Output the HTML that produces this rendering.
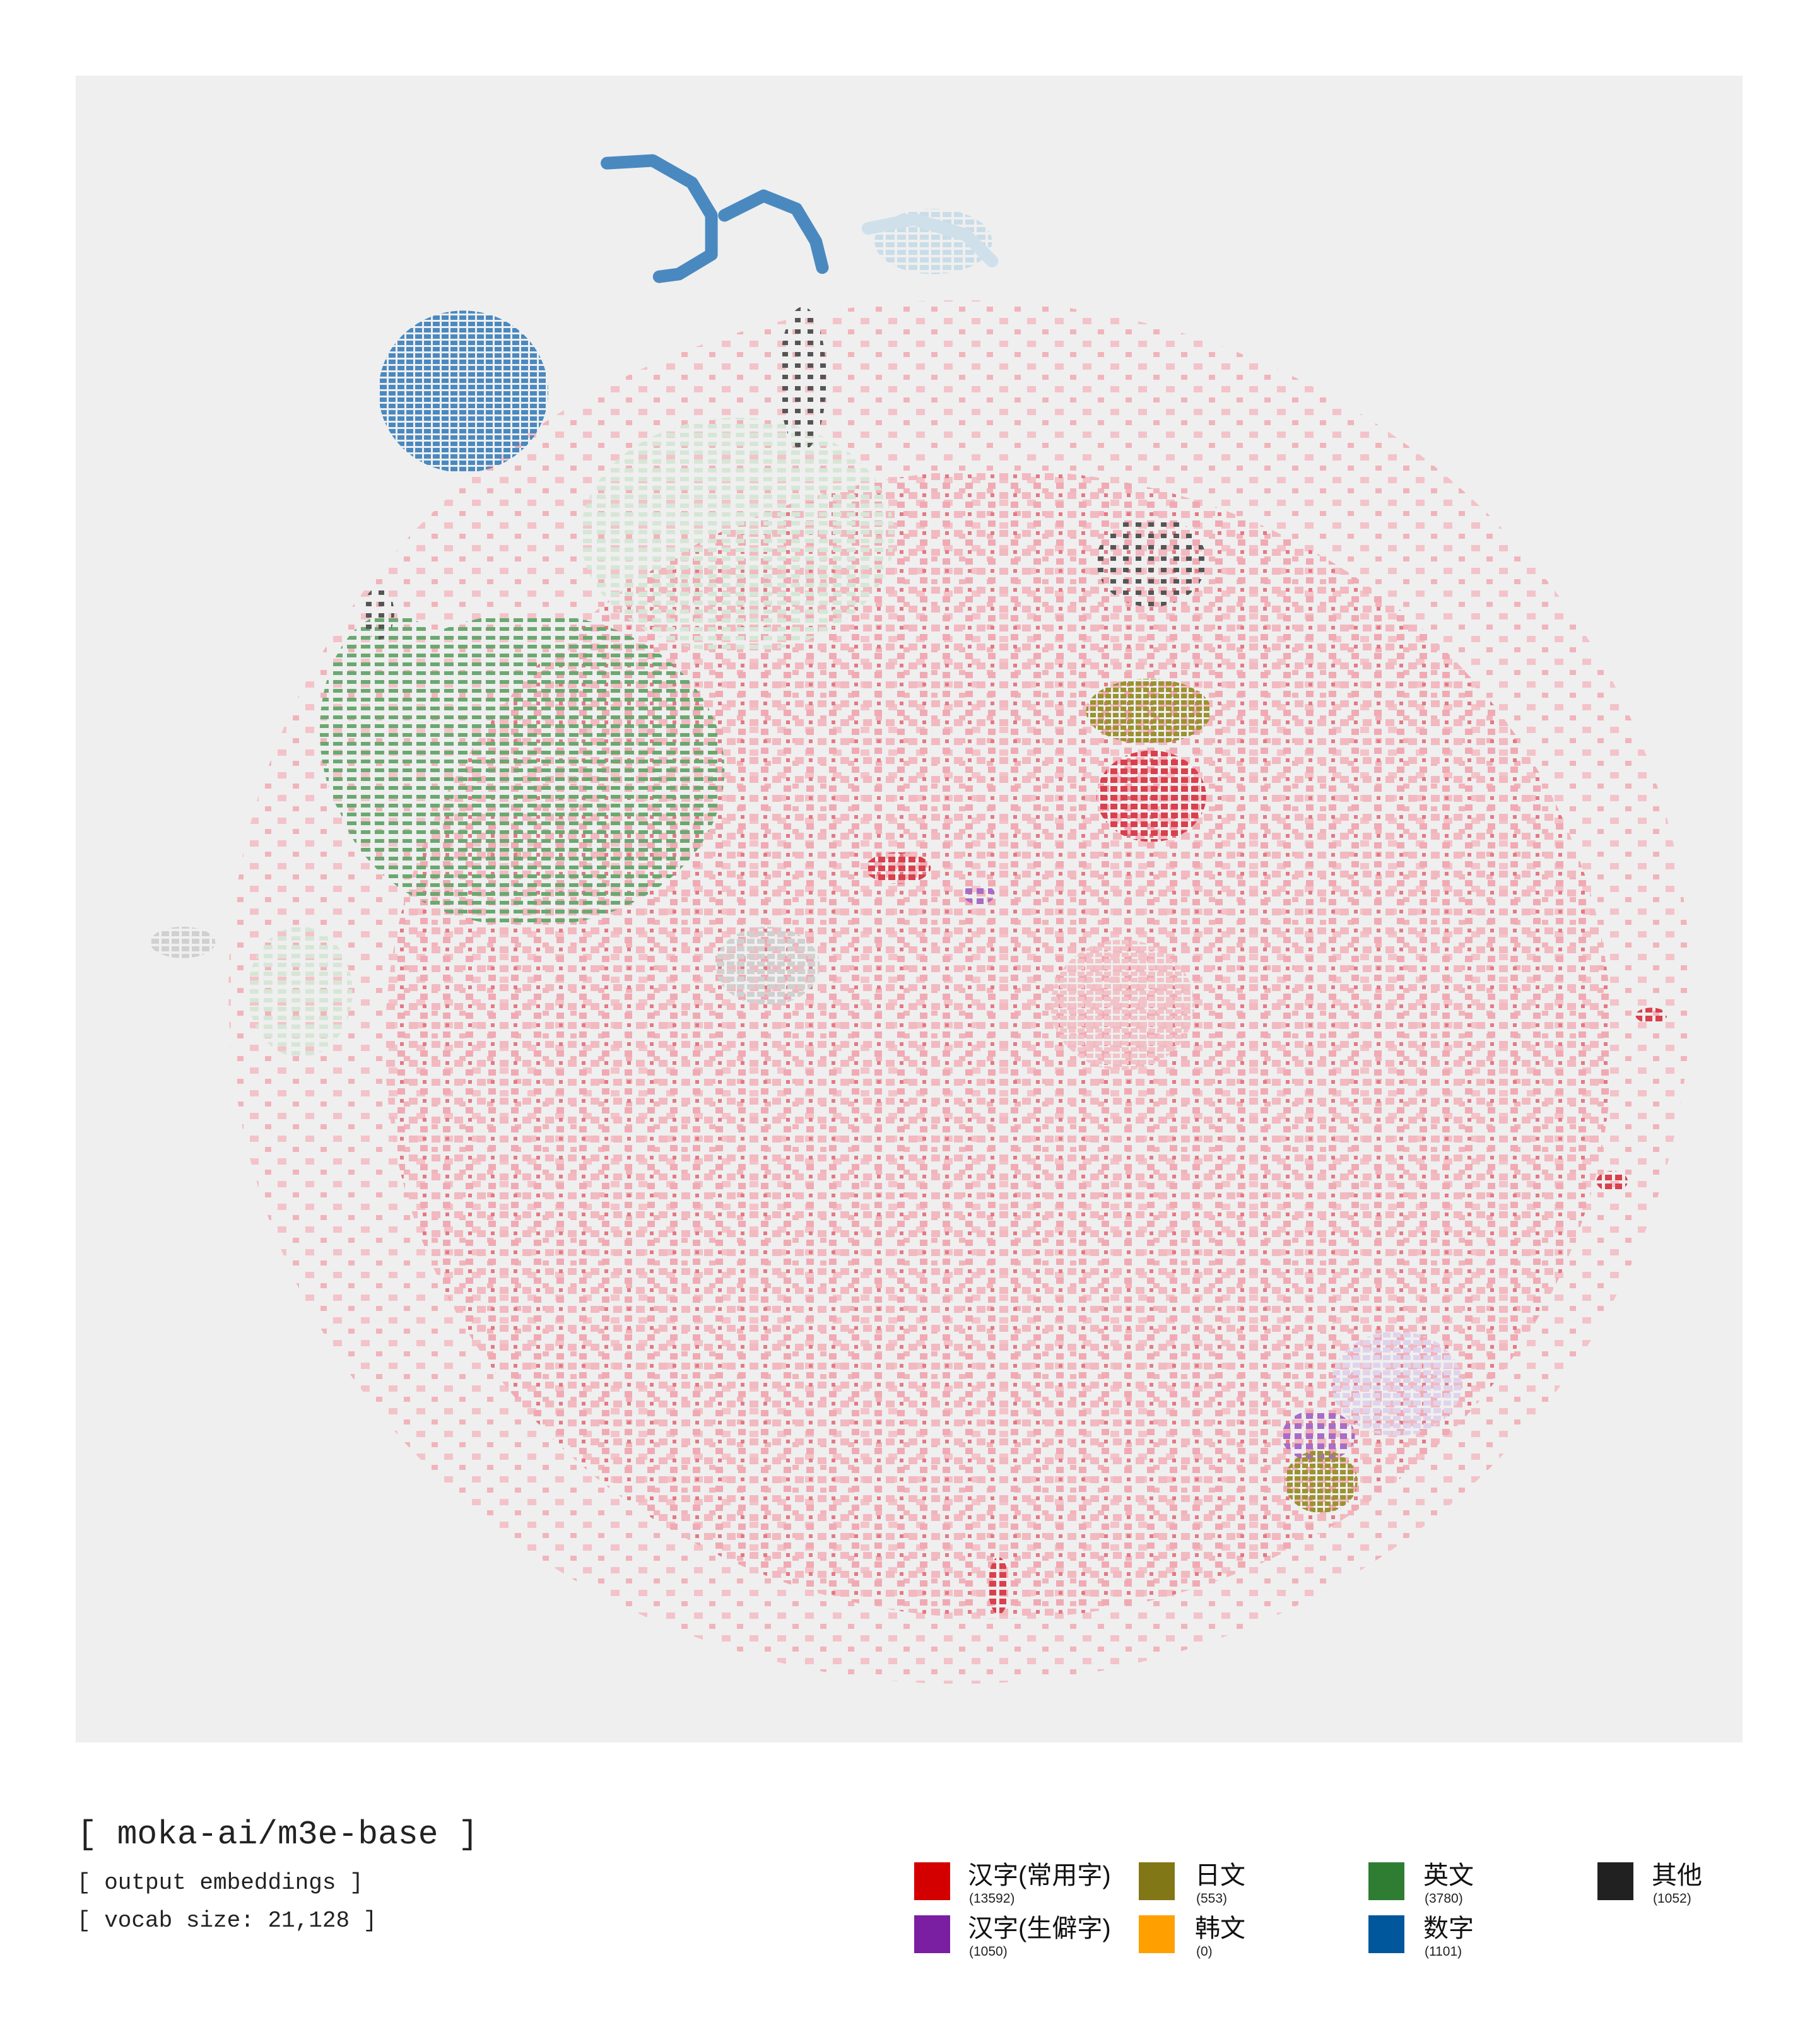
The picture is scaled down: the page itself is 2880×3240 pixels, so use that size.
<!DOCTYPE html>
<html><head><meta charset="utf-8">
<style>
body{margin:0;background:#fff;width:2880px;height:3240px;position:relative;overflow:hidden;font-family:"Liberation Sans","Noto Sans CJK SC",sans-serif}
.mono{font-family:"Liberation Mono",monospace;position:absolute;color:#222;white-space:pre}
.sw{position:absolute;width:57px;height:60px}
.lab{position:absolute;font-size:40px;color:#111;line-height:40px;white-space:nowrap}
.cnt{position:absolute;font-size:21px;color:#222;white-space:nowrap}
</style></head><body>
<svg id="chart" width="2880" height="2800" style="position:absolute;left:0;top:0">
<defs>
<pattern id="pPink" width="36" height="30" patternUnits="userSpaceOnUse"><rect x="0" y="0" width="14" height="11" fill="#f2b9c0"/><rect x="18" y="15" width="12" height="10" fill="#f0aab3"/><rect x="22" y="2" width="6" height="6" fill="#e47a85"/></pattern>
<pattern id="pPale" width="44" height="36" patternUnits="userSpaceOnUse"><rect width="14" height="10" fill="#f3c3c9"/><rect x="24" y="18" width="10" height="8" fill="#f1b4bb"/></pattern>
<pattern id="pRed" width="16" height="14" patternUnits="userSpaceOnUse"><rect width="11" height="9" fill="#d9404d"/></pattern>
<pattern id="pGreen" width="22" height="14" patternUnits="userSpaceOnUse"><rect width="15" height="6" fill="#6aa86f"/></pattern>
<pattern id="pBlue" width="14" height="10" patternUnits="userSpaceOnUse"><rect width="11" height="7" fill="#4a89c0"/></pattern>
<pattern id="pOlive" width="12" height="10" patternUnits="userSpaceOnUse"><rect width="9" height="7" fill="#9a9330"/></pattern>
<pattern id="pPurple" width="18" height="16" patternUnits="userSpaceOnUse"><rect width="11" height="9" fill="#a86cc6"/></pattern>
<pattern id="pBlack" width="20" height="18" patternUnits="userSpaceOnUse"><rect width="9" height="7" fill="#555"/></pattern>
<pattern id="pGrey" width="16" height="12" patternUnits="userSpaceOnUse"><rect width="12" height="8" fill="#d0d0d0"/></pattern>
<pattern id="pLight" width="18" height="12" patternUnits="userSpaceOnUse"><rect width="14" height="8" fill="#c9dde8"/></pattern>
<pattern id="pMint" width="22" height="14" patternUnits="userSpaceOnUse"><rect width="14" height="7" fill="#d6e6d6"/></pattern>
<pattern id="pLav" width="16" height="12" patternUnits="userSpaceOnUse"><rect width="12" height="8" fill="#dfd3ec"/></pattern>
<pattern id="pBlush" width="14" height="10" patternUnits="userSpaceOnUse"><rect width="11" height="7" fill="#f1c3c8"/></pattern>
</defs>
<rect x="120" y="120" width="2642" height="2642" fill="#efefef"/>
<g id="regions"></g>
</svg>

<div class="mono" style="left:122px;top:2878px;font-size:53px">[ moka-ai/m3e-base ]</div>
<div class="mono" style="left:122px;top:2964px;font-size:36px">[ output embeddings ]</div>
<div class="mono" style="left:122px;top:3024px;font-size:36px">[ vocab size: 21,128 ]</div>

<div>
<div><div class="sw" style="left:1449px;top:2952px;background:#d40000"></div><div class="lab" style="left:1534px;top:2953px">汉字(常用字)</div><div class="cnt" style="left:1536px;top:2998px">(13592)</div></div>
<div><div class="sw" style="left:1449px;top:3036px;background:#7b1fa2"></div><div class="lab" style="left:1534px;top:3037px">汉字(生僻字)</div><div class="cnt" style="left:1536px;top:3082px">(1050)</div></div>
<div><div class="sw" style="left:1805px;top:2952px;background:#827717"></div><div class="lab" style="left:1894px;top:2953px">日文</div><div class="cnt" style="left:1896px;top:2998px">(553)</div></div>
<div><div class="sw" style="left:1805px;top:3036px;background:#ffa000"></div><div class="lab" style="left:1894px;top:3037px">韩文</div><div class="cnt" style="left:1896px;top:3082px">(0)</div></div>
<div><div class="sw" style="left:2169px;top:2952px;background:#2e7d32"></div><div class="lab" style="left:2256px;top:2953px">英文</div><div class="cnt" style="left:2258px;top:2998px">(3780)</div></div>
<div><div class="sw" style="left:2169px;top:3036px;background:#01579b"></div><div class="lab" style="left:2256px;top:3037px">数字</div><div class="cnt" style="left:2258px;top:3082px">(1101)</div></div>
<div><div class="sw" style="left:2532px;top:2952px;background:#212121"></div><div class="lab" style="left:2618px;top:2953px">其他</div><div class="cnt" style="left:2620px;top:2998px">(1052)</div></div>
</div>

<script>
// Regions in data coordinates (t-SNE space)
const regionCat = ['pale','pink','mint','green','green','blue','black','olive','red','black','grey','red','purple','grey','blush','lav','purple','olive','red','red','red','light','black','mint'];
const regionX   = [ 735,  765,  565,  405,  300,  355,  882,  880,  882,  615,  140,  688,  750,  588,  860, 1070, 1010, 1012, 1265, 1235,  765,  715,  290,  230];
const regionY   = [ 760,  800,  410,  590,  560,  300,  430,  545,  610,  290,  722,  665,  685,  740,  770, 1060, 1100, 1135,  778,  905, 1215,  185,  470,  760];
const regionRX  = [ 560,  470,  120,  150,   55,   65,   42,   48,   42,   18,   25,   25,   12,   40,   55,   50,   28,   28,   12,   12,    8,   45,   12,   40];
const regionRY  = [ 530,  440,   90,  120,   90,   62,   35,   25,   35,   55,   12,   12,    8,   30,   50,   40,   20,   24,    6,    8,   22,   25,   20,   50];
const arcX = [[465, 500, 530, 545, 545, 520, 505],[555, 585, 610, 625, 630],[665, 700, 740, 760]];
const arcY = [[125, 123, 140, 165, 195, 210, 212],[165, 150, 160, 185, 205],[175, 168, 180, 200]];
const arcCat = ['blue','blue','light'];

const fills = {pink:'url(#pPink)',pale:'url(#pPale)',red:'url(#pRed)',green:'url(#pGreen)',blue:'url(#pBlue)',olive:'url(#pOlive)',purple:'url(#pPurple)',black:'url(#pBlack)',grey:'url(#pGrey)',light:'url(#pLight)',lav:'url(#pLav)',mint:'url(#pMint)',blush:'url(#pBlush)'};
const strokes = {blue:'#4a89c0',light:'#cfe0ea'};
const D0=58, K=2.069, P0=120;
function sx(d){return P0 + (d-D0)*K;}
function sy(d){return P0 + (d-D0)*K;}
function sr(d){return d*K;}
const NS='http://www.w3.org/2000/svg';
const g=document.getElementById('regions');
for(let i=0;i<regionCat.length;i++){
  const e=document.createElementNS(NS,'ellipse');
  
  
  e.setAttribute('cx',sx(regionX[i]));e.setAttribute('cy',sy(regionY[i]));
  e.setAttribute('rx',sr(regionRX[i]));e.setAttribute('ry',sr(regionRY[i]));
  e.setAttribute('fill',fills[regionCat[i]]);
  g.appendChild(e);
}
for(let i=0;i<arcX.length;i++){
  const p=document.createElementNS(NS,'polyline');
  
  
  p.setAttribute('points',arcX[i].map((x,j)=>sx(x)+','+sy(arcY[i][j])).join(' '));
  p.setAttribute('fill','none');p.setAttribute('stroke',strokes[arcCat[i]]);
  p.setAttribute('stroke-width','20');p.setAttribute('stroke-linecap','round');p.setAttribute('stroke-linejoin','round');
  g.appendChild(p);
}
</script>
</body></html>
